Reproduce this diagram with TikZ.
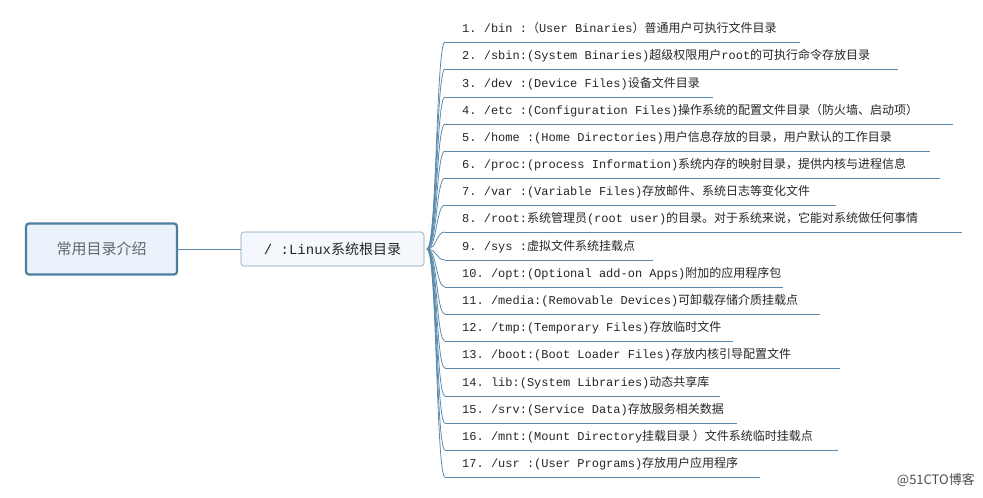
\documentclass[tikz,border=0pt]{standalone}
\usepackage{fontspec}
\setmonofont{Liberation Mono}
\newfontfamily\cjk{Noto Sans CJK SC}
\newcommand\zh[1]{{\cjk #1}}
\definecolor{ln}{HTML}{5B8AAD}
\definecolor{rb}{HTML}{4E7D9E}
\definecolor{rf}{HTML}{EAF2FB}
\begin{document}
\begin{tikzpicture}[x=1pt,y=-1pt,
  item/.style={anchor=base west,inner sep=0pt,font=\ttfamily\fontsize{12}{14}\selectfont,text=black!85},
  br/.style={draw=ln,line width=0.8pt},
  ul/.style={draw=ln,line width=0.8pt}]
\useasboundingbox (0,0) rectangle (983,498);
\node[draw=rb,line width=2.2pt,fill=rf,rounded corners=3pt,minimum width=151pt,minimum height=51pt,font=\cjk\fontsize{15}{18}\selectfont,text=black!60] (root) at (101.5,249) {常用目录介绍};
\node[draw=ln!80,line width=0.6pt,fill=rf!50,rounded corners=3pt,minimum width=183pt,minimum height=34pt,font=\ttfamily\fontsize{14}{16}\selectfont,text=black!85] (lin) at (332.5,249) {/ :Linux\zh{系统根目录}};
\draw[br] (root.east) -- (lin.west);
\coordinate (hub) at (427,249);
\foreach \n/\y/\e/\t in {
 1/32/800/{1. /bin :\zh{（}User Binaries\zh{）普通用户可执行文件目录}},
 2/59/898/{2. /sbin:(System Binaries)\zh{超级权限用户}root\zh{的可执行命令存放目录}},
 3/87/713/{3. /dev :(Device Files)\zh{设备文件目录}},
 4/114/953/{4. /etc :(Configuration Files)\zh{操作系统的配置文件目录（防火墙、启动项）}},
 5/141/930/{5. /home :(Home Directories)\zh{用户信息存放的目录，用户默认的工作目录}},
 6/168/940/{6. /proc:(process Information)\zh{系统内存的映射目录，提供内核与进程信息}},
 7/195/836/{7. /var :(Variable Files)\zh{存放邮件、系统日志等变化文件}},
 8/222/962/{8. /root:\zh{系统管理员}(root user)\zh{的目录。对于系统来说，它能对系统做任何事情}},
 9/250/653/{9. /sys :\zh{虚拟文件系统挂载点}},
 10/277/783/{10. /opt:(Optional add-on Apps)\zh{附加的应用程序包}},
 11/304/820/{11. /media:(Removable Devices)\zh{可卸载存储介质挂载点}},
 12/331/733/{12. /tmp:(Temporary Files)\zh{存放临时文件}},
 13/358/840/{13. /boot:(Boot Loader Files)\zh{存放内核引导配置文件}},
 14/386/720/{14. lib:(System Libraries)\zh{动态共享库}},
 15/413/737/{15. /srv:(Service Data)\zh{存放服务相关数据}},
 16/440/838/{16. /mnt:(Mount Directory\zh{挂载目录 ）文件系统临时挂载点}},
 17/467/760/{17. /usr :(User Programs)\zh{存放用户应用程序}}} {
  \node[item] (i\n) at (462,\y) {\t};
  \coordinate (s\n) at (445,\y+10);
  \coordinate (e\n) at (\e,\y+10);
  \draw[ul] (s\n) -- (e\n);
  \draw[br] (hub) .. controls (437,249) and (436,\y+10) .. (s\n);
}
\node[anchor=east,inner sep=0pt,font=\cjk\fontsize{13}{15}\selectfont,text=black!70] (wm) at (975,480) {@51CTO博客};
\end{tikzpicture}
\end{document}
